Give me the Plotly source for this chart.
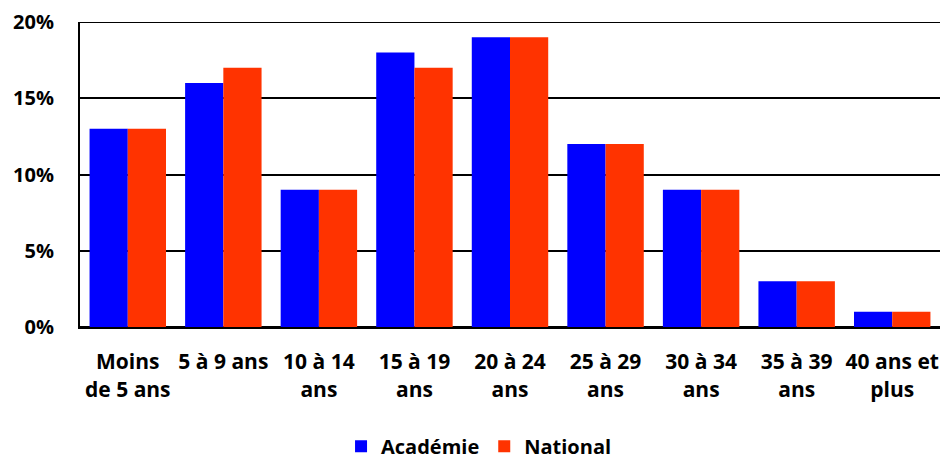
import plotly.graph_objects as go

categories = ["Moins<br>de 5 ans", "5 à 9 ans", "10 à 14<br>ans", "15 à 19<br>ans", "20 à 24<br>ans",
              "25 à 29<br>ans", "30 à 34<br>ans", "35 à 39<br>ans", "40 ans et<br>plus"]
academie = [13, 16, 9, 18, 19, 12, 9, 3, 1]
national = [13, 17, 9, 17, 19, 12, 9, 3, 1]
ytick_vals = [0, 5, 10, 15, 20]
ytick_text = ["0%", "5%", "10%", "15%", "20%"]

FONT = "Open Sans"

fig = go.Figure()
fig.add_trace(go.Bar(name="Académie", x=categories, y=academie, marker=dict(color="#0000FF", line=dict(width=0))))
fig.add_trace(go.Bar(name="National", x=categories, y=national, marker=dict(color="#FF3300", line=dict(width=0))))

fig.update_layout(
    width=944, height=459,
    margin=dict(l=80, r=4, t=22, b=132, autoexpand=False),
    paper_bgcolor="white", plot_bgcolor="white",
    barmode="group", bargap=0.2, bargroupgap=0,
    font=dict(family=FONT, size=18, color="black", weight="bold"),
    showlegend=True,
    legend=dict(orientation="h", x=0.464, xanchor="center", y=-0.455, yanchor="bottom",
                font=dict(family=FONT, size=20, color="black", weight="bold"), traceorder="normal",
                itemwidth=30),
    xaxis=dict(showgrid=False, showline=True, linecolor="black", linewidth=2, automargin=False,
               tickfont=dict(family=FONT, size=21, color="black", weight="bold"), ticks="", ticklabelstandoff=15),
    yaxis=dict(range=[0, 20], tickvals=ytick_vals, ticktext=ytick_text, automargin=False,
               showgrid=True, gridcolor="black", gridwidth=2,
               showline=True, linecolor="black", linewidth=2,
               zeroline=True, zerolinecolor="black", zerolinewidth=2,
               tickfont=dict(family=FONT, size=20, color="black", weight="bold"), ticks="", ticklabelstandoff=20),
)
# top gridline at 20% (plotly drops the gridline at the range edge)
fig.add_shape(type="line", xref="paper", yref="y", x0=0, x1=1, y0=ytick_vals[-1], y1=ytick_vals[-1],
              line=dict(color="black", width=2), layer="below")

fig.write_html("out.html", config={"displayModeBar": False},
               post_script="document.body.style.margin='0';")
